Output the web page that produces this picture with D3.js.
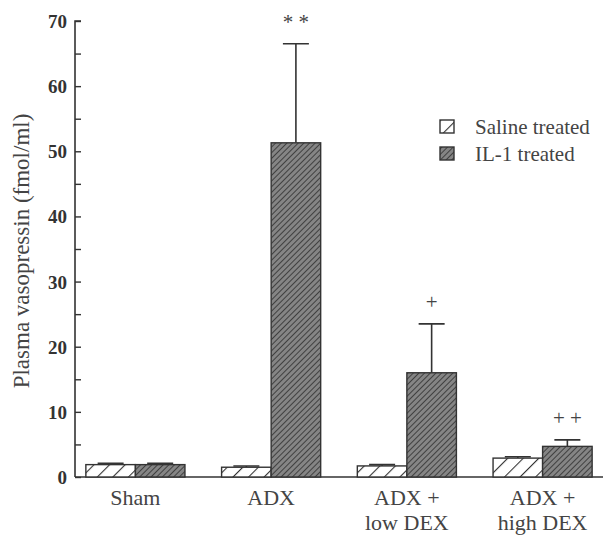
<!DOCTYPE html>
<html>
<head>
<meta charset="utf-8">
<script src="https://cdn.jsdelivr.net/npm/d3@7"></script>
<style>
  body { margin: 0; background: #fff; }
  svg { font-family: "Liberation Serif", "DejaVu Serif", serif; }
</style>
</head>
<body>
<svg id="chart" width="607" height="535"></svg>
<script>
var groups = ['Sham', 'ADX', 'ADX +|low DEX', 'ADX +|high DEX'];
var series = ['Saline treated', 'IL-1 treated'];
var saline = [1.9, 1.5, 1.7, 2.9];
var salineErr = [0.2, 0.2, 0.2, 0.2];
var il1 = [1.9, 51.3, 16.0, 4.7];
var il1Err = [0.2, 15.2, 7.5, 1.0];
var marks = ['', '* *', '+', '+ +'];
var yTicks = [0, 10, 20, 30, 40, 50, 60, 70];

var svg = d3.select('#chart');
var margin = {left: 75, top: 21, right: 4, bottom: 58};
var width = 607 - margin.left - margin.right,
  height = 535 - margin.top - margin.bottom;

var defs = svg.append('defs');
// wide hatch for saline
var p1 = defs.append('pattern').attr('id', 'hSal')
  .attr('patternUnits', 'userSpaceOnUse').attr('width', 11).attr('height', 11)
  .attr('patternTransform', 'rotate(45)');
p1.append('rect').attr('width', 11).attr('height', 11).attr('fill', '#fff');
p1.append('line').attr('x1', 0).attr('y1', 0).attr('x2', 0).attr('y2', 11)
  .attr('stroke', '#333').attr('stroke-width', 2.2);
// dense hatch for IL-1
var p2 = defs.append('pattern').attr('id', 'hIL')
  .attr('patternUnits', 'userSpaceOnUse').attr('width', 4).attr('height', 4)
  .attr('patternTransform', 'rotate(45)');
p2.append('rect').attr('width', 4).attr('height', 4).attr('fill', '#858585');
p2.append('line').attr('x1', 0).attr('y1', 0).attr('x2', 0).attr('y2', 4)
  .attr('stroke', '#383838').attr('stroke-width', 1.8);

var g = svg.append('g').attr('transform', 'translate(' + margin.left + ',' + margin.top + ')');

var y = d3.scaleLinear().domain([0, 70]).range([height, 0]);
var x0 = d3.scaleBand().domain(groups).range([0, width]).paddingInner(0.27).paddingOuter(0.08);
var x1 = d3.scaleBand().domain(series).range([0, x0.bandwidth()]);

// y axis
var yAxis = d3.axisRight(y).tickValues(d3.range(0, 71, 5)).tickSize(6).tickFormat('');
var ya = g.append('g').call(yAxis);
ya.select('.domain').attr('stroke', '#333').attr('stroke-width', 1.6).attr('d', 'M0,' + height + 'V0H6');
ya.selectAll('.tick line').attr('stroke', '#333').attr('stroke-width', 1.4);

g.selectAll('.ylab').data(yTicks).enter().append('text')
  .attr('x', -8).attr('y', function(d) { return y(d) + 7; })
  .attr('text-anchor', 'end').attr('font-size', 19).attr('font-weight', 'bold')
  .attr('fill', '#333').text(function(d) { return d; });

// x baseline
g.append('line').attr('x1', 0).attr('x2', width).attr('y1', height).attr('y2', height)
  .attr('stroke', '#333').attr('stroke-width', 1.6);

var data = groups.map(function(gr, i) {
  return [
    {g: gr, s: series[0], v: saline[i], e: salineErr[i]},
    {g: gr, s: series[1], v: il1[i], e: il1Err[i]}
  ];
});

var grp = g.selectAll('.grp').data(data).enter().append('g')
  .attr('transform', function(d) { return 'translate(' + x0(d[0].g) + ',0)'; });

// error bars
grp.selectAll('.err').data(function(d) { return d; }).enter().append('path')
  .attr('fill', 'none').attr('stroke', '#333').attr('stroke-width', 1.6)
  .attr('d', function(d) {
    var cx = x1(d.s) + x1.bandwidth() / 2, hw = 13;
    return 'M' + cx + ',' + y(d.v) + 'V' + y(d.v + d.e) + 'M' + (cx - hw) + ',' + y(d.v + d.e) + 'H' + (cx + hw);
  });

grp.selectAll('rect').data(function(d) { return d; }).enter().append('rect')
  .attr('x', function(d) { return x1(d.s); })
  .attr('y', function(d) { return y(d.v); })
  .attr('width', x1.bandwidth())
  .attr('height', function(d) { return height - y(d.v); })
  .attr('fill', function(d) { return d.s === series[0] ? 'url(#hSal)' : 'url(#hIL)'; })
  .attr('stroke', '#333').attr('stroke-width', 1.4);

// significance marks
grp.append('text')
  .attr('x', function(d) { return x1(series[1]) + x1.bandwidth() / 2; })
  .attr('y', function(d) { return y(d[1].v + d[1].e) - 15; })
  .attr('text-anchor', 'middle').attr('font-size', 21).attr('fill', '#444')
  .text(function(d, i) { return marks[i]; });

// x labels
grp.append('text')
  .attr('x', x0.bandwidth() / 2).attr('y', height + 28)
  .attr('text-anchor', 'middle').attr('font-size', 22).attr('fill', '#444')
  .selectAll('tspan').data(function(d) { return d[0].g.split('|'); }).enter().append('tspan')
  .attr('x', x0.bandwidth() / 2).attr('dy', function(d, i) { return i ? 25 : 0; })
  .text(function(d) { return d; });

// y title
svg.append('text')
  .attr('transform', 'translate(29,' + (margin.top + height / 2 + 2) + ') rotate(-90)')
  .attr('text-anchor', 'middle').attr('font-size', 23).attr('fill', '#444')
  .text('Plasma vasopressin (fmol/ml)');

// legend
var leg = svg.append('g').attr('transform', 'translate(440,120)');
series.forEach(function(s, i) {
  leg.append('rect').attr('x', 0).attr('y', i * 27).attr('width', 14).attr('height', 13)
    .attr('fill', i ? 'url(#hIL)' : 'url(#hSal)').attr('stroke', '#333').attr('stroke-width', 1.4);
  leg.append('text').attr('x', 35).attr('y', i * 27 + 14)
    .attr('font-size', 21).attr('fill', '#444').text(s);
});
</script>
</body>
</html>
